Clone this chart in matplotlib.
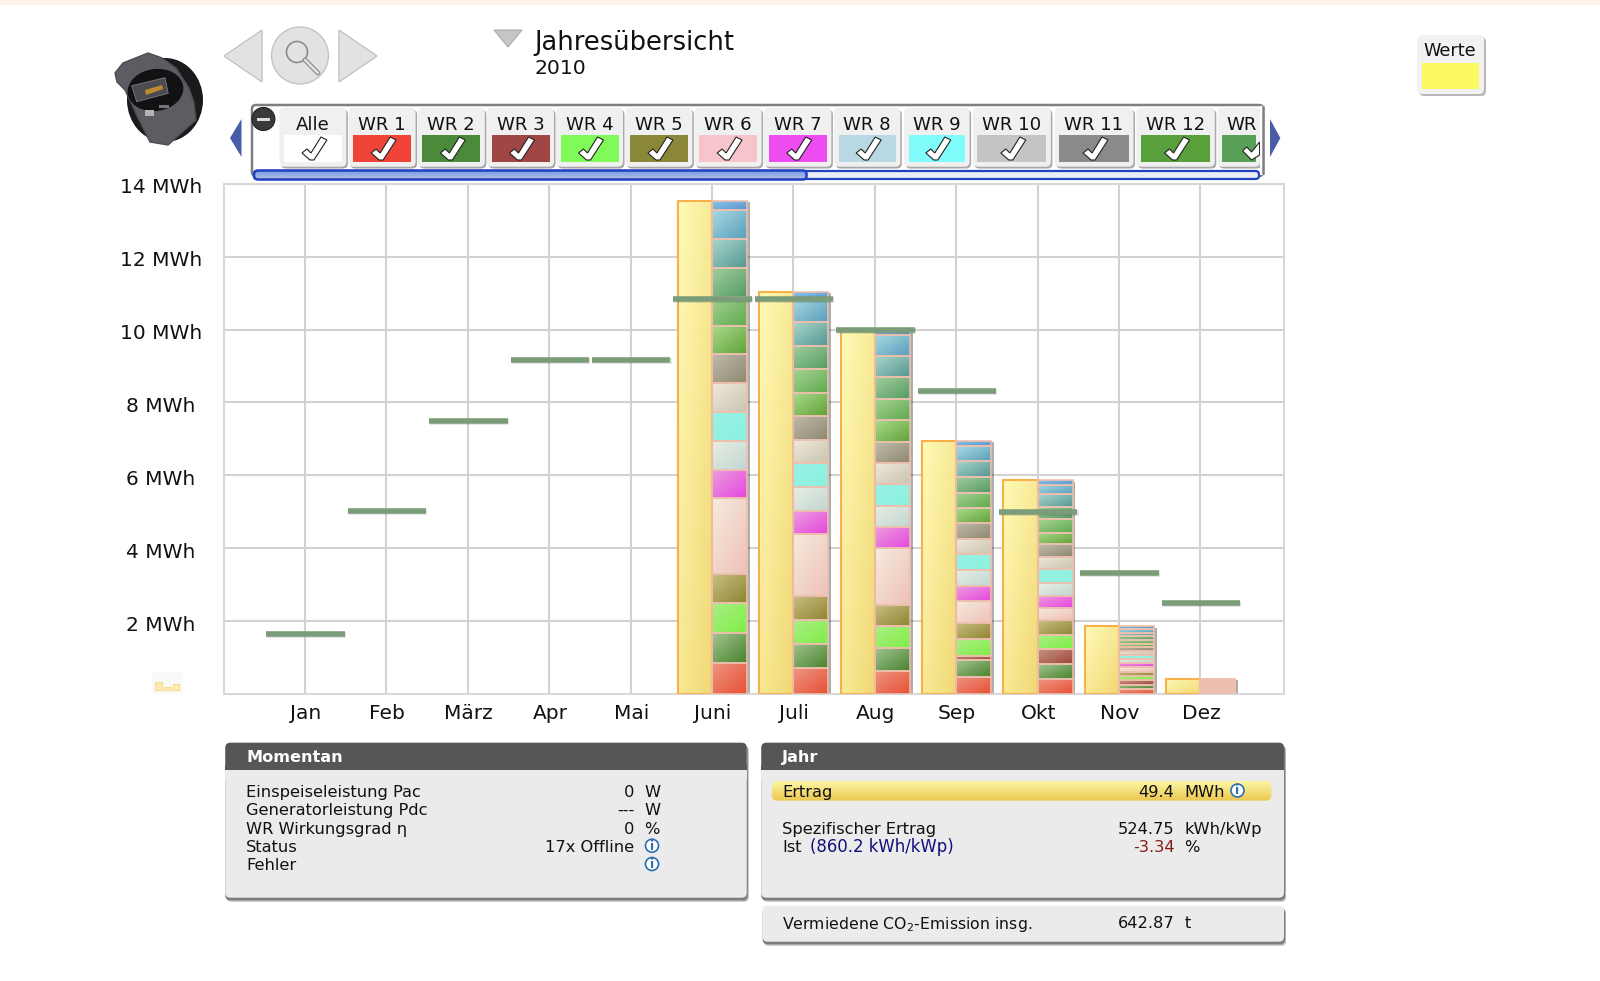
import numpy as np
import matplotlib
matplotlib.use("Agg")
import matplotlib.pyplot as plt
import matplotlib.patheffects as pe
from matplotlib.colors import to_rgb
from matplotlib.patches import Circle, Ellipse, FancyBboxPatch, Polygon, Rectangle
from matplotlib.transforms import ScaledTranslation

plt.rcParams['font.family'] = 'DejaVu Sans'
plt.rcParams['mathtext.default'] = 'regular'

months = ["Jan", "Feb", "März", "Apr", "Mai", "Juni", "Juli", "Aug", "Sep", "Okt", "Nov", "Dez"]
totals = [0, 0, 0, 0, 0, 13.53, 11.04, 9.95, 6.95, 5.87, 1.87, 0.42]
targets = [1.65, 5.01, 7.50, 9.16, 9.16, 10.85, 10.85, 10.00, 8.32, 4.99, 3.31, 2.49]

# per inverter values, WR 1 at the bottom
juni = [.86, .80, 0, .83, .80, 2.08, .78, .80, .78, .79, .81, .77, .80, .78, .79, .81, .25]
juli = [.70, .67, 0, .66, .66, 1.70, .63, .67, .64, .64, .66, .64, .65, .64, .65, .64, .19]
aug = [.64, .61, 0, .62, .58, 1.55, .57, .59, .59, .60, .57, .60, .57, .60, .58, .58, .10]
sep = [.47, .46, .12, .45, .44, .62, .41, .43, .43, .43, .44, .39, .43, .44, .44, .40, .15]
okt = [.41, .40, .42, .39, .40, .35, .33, .35, .37, .35, .35, .31, .36, .35, .34, .25, .14]
nov = [.13, .12, .13, .11, .11, .13, .11, .11, .11, .11, .11, .10, .10, .10, .10, .10, .09]
dez = [.025, .025, .025, .025, .025, .025, .025, .025, .025, .025, .025, .025, .025, .025, .025, .025, .02]
stack_months = [5, 6, 7, 8, 9, 10, 11]
stacks = [juni, juli, aug, sep, okt, nov, dez]

# light / dark end of each segment gradient
seg_colors = [
    ("#ee9482", "#e84a2c"), ("#a0c490", "#3f7f24"), ("#c89484", "#9a4030"), ("#aaf084", "#78f040"),
    ("#c8c084", "#8a8028"), ("#f6eee0", "#f0c0b8"), ("#ee9ce0", "#e440e0"), ("#ecf0e4", "#bcd8d4"),
    ("#94f4ea", "#88f4e0"), ("#f0ecdc", "#c8c4b0"), ("#c0bcac", "#88846c"), ("#a8dc8c", "#58a030"),
    ("#a4d494", "#58a848"), ("#a0d09c", "#4c9860"), ("#a8d8cc", "#4c9490"), ("#a8dce4", "#509cbc"),
    ("#88c8ec", "#5090d0"),
]

tab_labels = ["Alle", "WR 1", "WR 2", "WR 3", "WR 4", "WR 5", "WR 6", "WR 7", "WR 8", "WR 9", "WR 10", "WR 11", "WR 12", "WR"]
tab_left = [279.5, 348.7, 417.9, 487, 556, 625.5, 694.6, 764, 834, 904, 972.8, 1054.6, 1136.3, 1217.6]
tab_right = [346.4, 415.6, 484.8, 554, 623, 692.4, 761.6, 831.4, 900.3, 969.6, 1050.9, 1133.5, 1214.8, 1260]
tab_colors = ["#ffffff", "#f04438", "#4a8a38", "#a04644", "#80fa58", "#8a8838", "#f8c4cc", "#ec4cf0",
              "#b8d8e4", "#80fcfc", "#c4c4c4", "#8a8a8a", "#58a03c", "#58a058"]

now_rows = [("Einspeiseleistung Pac", "0", "W"), ("Generatorleistung Pdc", "---", "W"),
            ("WR Wirkungsgrad η", "0", "%"), ("Status", "17x Offline", ""), ("Fehler", "", "")]
now_y = [792.3, 810.6, 829.3, 847.3, 865.6]

W, H = 1600, 981


def gradient(c1, c2, n=64):
    # diagonal, light in the top left corner
    a, b = np.array(to_rgb(c1)), np.array(to_rgb(c2))
    u, v = np.meshgrid(np.linspace(0, 1, n), np.linspace(0, 1, n))
    t = ((u + v) / 2)[..., None]
    return a + (b - a) * t


def grad_bar(ax, x, bottom, height, width, c1, c2, edge, lw, zorder):
    face = ax.bar(x, height, width, bottom=bottom, align='edge', color='none', edgecolor='none', zorder=zorder)[0]
    im = ax.imshow(gradient(c1, c2), extent=(x, x + width, bottom, bottom + height), aspect='auto',
                   zorder=zorder, alpha=.96, interpolation='bilinear')
    im.set_clip_path(face)
    ax.bar(x, height, width, bottom=bottom, align='edge', color='none', edgecolor=edge, linewidth=lw, zorder=zorder + .1)


def box(ui, x0, y0, x1, y1, fc, ec='none', lw=0, r=4, z=2):
    p = FancyBboxPatch((x0 + r, y0 + r), x1 - x0 - 2 * r, y1 - y0 - 2 * r, boxstyle=f"round,pad={r},rounding_size={r}",
                       fc=fc, ec=ec, lw=lw, zorder=z)
    ui.add_patch(p)
    return p


def v_grad(ui, x0, y0, x1, y1, c1, c2, clip, z):
    a, b = np.array(to_rgb(c1)), np.array(to_rgb(c2))
    t = np.linspace(0, 1, 32)[:, None, None]
    im = ui.imshow(a + (b - a) * t, extent=(x0, x1, y1, y0), aspect='auto', zorder=z)
    im.set_clip_path(clip)


def check(ui, cx, cy):
    pts = np.array([[-12, 5], [-7, 1], [-3, 5], [7, -11], [13, -8], [0, 12], [-4, 12]])
    ui.add_patch(Polygon(pts + [cx, cy], closed=True, fc='white', ec='#222222', lw=.8, zorder=6))


def info(ui, cx, cy):
    ui.add_patch(Circle((cx, cy), 6.5, fc='white', ec='#2a6fb0', lw=1.2, zorder=5))
    ui.text(cx, cy + .3, "i", color='#2a6fb0', fontsize=9, fontweight='bold', ha='center', va='center', zorder=6)


fig = plt.figure(figsize=(W / 100, H / 100), dpi=100, facecolor='white')

# everything around the chart, in pixel coordinates
ui = fig.add_axes([0, 0, 1, 1], zorder=1)
ui.set_xlim(0, W)
ui.set_ylim(H, 0)
ui.axis('off')

ui.add_patch(Rectangle((0, 0), W, 5, fc='#fdf3ea', ec='none'))

# device picture
ui.add_patch(Ellipse((165, 100), 76, 84, fc='#1a1a1c', ec='none', zorder=2))
ui.add_patch(Polygon([[115, 73], [123, 63], [148, 53], [162, 58], [176, 68], [189, 88], [194, 103], [196, 120], [168, 145],
                      [150, 142], [138, 118], [125, 90], [117, 82]], closed=True, fc='#5c5d63', ec='#4c4d52', lw=1, zorder=3))
ui.add_patch(Ellipse((155.5, 90), 56, 42, angle=-8, fc='#121214', ec='none', zorder=4))
ui.add_patch(Polygon([[131.7, 85.7], [165, 77.7], [168.3, 93.3], [136.7, 101.7]], closed=True, fc='#4a4c52', ec='#8a8a8a', lw=.5, zorder=5))
ui.add_patch(Polygon([[145, 90], [162, 85], [163, 89], [146, 95]], closed=True, fc='#c08a30', ec='none', zorder=6))
ui.add_patch(Rectangle((145, 110), 8.5, 5.5, fc='#b4b4b4', ec='none', zorder=5))
ui.add_patch(Rectangle((159, 105), 10, 3, fc='#77777c', ec='none', zorder=5))

# navigation
nav = dict(fc='#e2e2e2', ec='#c4c4c4', lw=1, zorder=2)
ui.add_patch(Polygon([[224, 56], [262, 30], [262, 82]], closed=True, **nav))
ui.add_patch(Polygon([[377, 56], [339, 30], [339, 82]], closed=True, **nav))
ui.add_patch(Circle((300, 55.5), 28.5, **nav))
ui.add_patch(Circle((297, 52), 10.5, fc='none', ec='#8c8c8c', lw=1.2, zorder=3))
ui.plot([305, 318], [60, 73], color='#8c8c8c', lw=3.5, zorder=3, solid_capstyle='round')
ui.plot([305, 318], [60, 73], color='#e2e2e2', lw=1.8, zorder=3, solid_capstyle='round')
ui.add_patch(Polygon([[494, 30], [522, 30], [508, 47]], closed=True, fc='#c6c6c6', ec='#aaaaaa', lw=.8, zorder=2))

ui.text(534.5, 42.5, "Jahresübersicht", fontsize=18.5, ha='left', va='center', color='#111111')
ui.text(535, 69, "2010", fontsize=14.7, ha='left', va='center', color='#111111')

# werte box
box(ui, 1419, 37, 1486, 96, '#b8b8b8', r=5, z=2)
box(ui, 1417, 35, 1484, 94, '#f2f2f2', r=5, z=3)
ui.add_patch(Rectangle((1422, 63), 57, 26, fc='#fafa60', ec='none', zorder=4))
ui.text(1450, 51, "Werte", fontsize=12.7, ha='center', va='center', color='#111111', zorder=4)

# tab strip
box(ui, 252, 105, 1263, 176, 'white', ec='#808080', lw=1.8, r=4, z=1.5)
for label, x0, x1, color in zip(tab_labels, tab_left, tab_right, tab_colors):
    box(ui, x0 + 1.5, 109.5, x1 + 1.5, 168.5, '#a8a8a8', r=5, z=2)
    box(ui, x0, 107.7, x1, 166.7, '#f0f0f0', r=5, z=3)
    ui.add_patch(Rectangle((x0 + 4.5, 135), x1 - x0 - 9, 26.7, fc=color, ec='none', zorder=4))
    ui.text((x0 + x1) / 2 if label != "WR" else x0 + 24, 125, label, fontsize=13.1, ha='center', va='center', color='#111111', zorder=5)
    if label != "WR":
        check(ui, (x0 + x1) / 2 + 1, 148)
    else:
        ui.add_patch(Polygon([[x0 + 25, 151], [x0 + 29, 147], [x0 + 34, 152], [x0 + 42, 142], [x0 + 42, 155], [x0 + 34, 160]],
                             closed=True, fc='white', ec='#222222', lw=.8, zorder=6))
ui.add_patch(Rectangle((1260, 106), 3, 69, fc='white', ec='none', zorder=7))
ui.plot([1263, 1263], [107, 173], color='#808080', lw=1.8, zorder=8)

ui.add_patch(Circle((263.4, 119), 11.5, fc='#3a3a3a', ec='#222222', lw=.8, zorder=7))
ui.add_patch(Rectangle((257, 117.5), 13, 3, fc='#dddddd', ec='none', zorder=8))
ui.add_patch(Polygon([[241.5, 119], [241.5, 157], [230, 138]], closed=True, fc='#4a5ca8', ec='none', zorder=2))
ui.add_patch(Polygon([[1270, 119], [1270, 157], [1280.4, 138]], closed=True, fc='#4a5ca8', ec='none', zorder=2))

# scrollbar
box(ui, 254, 171, 1259, 179, '#e8eef8', ec='#2040c0', lw=1.6, r=3.5, z=5)
thumb = box(ui, 254, 170.5, 806.6, 179.5, 'none', ec='none', r=4, z=6)
v_grad(ui, 254, 170.5, 806.6, 179.5, '#6f9ae8', '#b4bce2', thumb, 6)
box(ui, 254, 170.5, 806.6, 179.5, 'none', ec='#2040c0', lw=1.8, r=4, z=7)

# small icon next to the axis
ui.add_patch(Rectangle((151.7, 672), 31.3, 22, fc='#f9f9f7', ec='none', zorder=2))
for x0, y0 in [(155, 681.7), (164, 687), (172.7, 683.7)]:
    ui.add_patch(Rectangle((x0, y0), 6.7, 690 - y0, fc='#fdeaae', ec='#f8da90', lw=.8, zorder=3))

# lower panels
for x0, y0, x1, y1 in [(225.3, 742.7, 746.7, 897.7), (761.3, 742.7, 1284, 897.7), (762.7, 905.7, 1284, 941.7)]:
    box(ui, x0 + 1, y0 + 3, x1 + 2, y1 + 4, '#b4b4b4', r=5, z=2)
    box(ui, x0, y0 + 2, x1 + 1, y1 + 2.5, '#7c7c7c', r=5, z=2.1)
    box(ui, x0, y0, x1, y1, '#ebebeb', r=5, z=3)
for x0, x1, title in [(225.3, 746.7, "Momentan"), (761.3, 1284, "Jahr")]:
    box(ui, x0, 742.7, x1, 775, '#565656', r=5, z=4)
    ui.add_patch(Rectangle((x0, 765), x1 - x0, 5.5, fc='#565656', ec='none', zorder=4))
    ui.add_patch(Rectangle((x0, 770), x1 - x0, 10, fc='#ebebeb', ec='none', zorder=4))
    ui.text(x0 + 20.7, 757.7, title, color='white', fontsize=11.6, fontweight='bold', ha='left', va='center', zorder=5)

txt = dict(fontsize=11.7, va='center', color='#111111', zorder=6)
for (label, value, unit), y in zip(now_rows, now_y):
    ui.text(246, y, label, ha='left', **txt)
    ui.text(634.5, y, value, ha='right', **txt)
    ui.text(644, y, unit, ha='left', **txt)
info(ui, 652, 845.7)
info(ui, 652, 864)

pill = box(ui, 771.7, 781, 1271.5, 800.7, 'none', r=6, z=5)
v_grad(ui, 771.7, 781, 1271.5, 800.7, '#fdf6a4', '#ecc850', pill, 5)
ui.text(782.5, 792.3, "Ertrag", ha='left', **txt)
ui.text(1174.5, 792.3, "49.4", ha='right', **txt)
ui.text(1184.6, 792.3, "MWh", ha='left', **txt)
info(ui, 1237.5, 790.5)
ui.text(782.5, 829.3, "Spezifischer Ertrag", ha='left', **txt)
ui.text(1174.5, 829.3, "524.75", ha='right', **txt)
ui.text(1184.6, 829.3, "kWh/kWp", ha='left', **txt)
ui.text(782.5, 847.3, "Ist", ha='left', **txt)
ui.text(810, 847.3, "(860.2 kWh/kWp)", ha='left', fontsize=11.9, va='center', color='#10107c', zorder=6)
ui.text(1174.5, 847.3, "-3.34", ha='right', fontsize=11.7, va='center', color='#8b1a1a', zorder=6)
ui.text(1184.6, 847.3, "%", ha='left', **txt)
ui.text(782.5, 924, "Vermiedene CO$_2$-Emission insg.", ha='left', fontsize=11.3, va='center', color='#111111', zorder=6)
ui.text(1174.5, 924, "642.87", ha='right', **txt)
ui.text(1184.6, 924, "t", ha='left', **txt)

# the chart itself
ax = fig.add_axes([223.6 / W, 1 - 694 / H, (1284.2 - 223.6) / W, (694 - 183.7) / H], zorder=2)
ax.patch.set_alpha(0)

x = np.arange(len(months))
ax.set_xticks(x)
ax.set_xticklabels(months, fontsize=14.5, color='#111111')
yticks = [2, 4, 6, 8, 10, 12, 14]
ax.set_yticks(yticks)
ax.set_yticklabels([f"{v} MWh" for v in yticks], fontsize=14.5, ha='center', color='#111111')
ax.tick_params(axis='both', length=0)
ax.tick_params(axis='y', pad=45)
ax.tick_params(axis='x', pad=7)
# labels sit a little off their gridline
down = ScaledTranslation(0, -2 / 100, fig.dpi_scale_trans)
right = ScaledTranslation(1 / 100, 0, fig.dpi_scale_trans)
for label in ax.get_yticklabels():
    label.set_transform(label.get_transform() + down)
for label in ax.get_xticklabels():
    label.set_transform(label.get_transform() + right)
ax.grid(True, color='#d2d2d2', linewidth=1.5, zorder=0)
ax.set_axisbelow(True)
for s in ax.spines.values():
    s.set_color('#d8d8d8')
    s.set_linewidth(1.5)

shadow = [pe.withSimplePatchShadow(offset=(2, -1.2), shadow_rgbFace='#000000', alpha=.32)]

for i, total in enumerate(totals):
    if total > 0:
        grad_bar(ax, i - .42, 0, total, .42, "#fffbb4", "#f1d66e", "#f8b04a", 1.5, 3)

for m, values in zip(stack_months, stacks):
    total = sum(values)
    outline = ax.bar(m, total, .43, align='edge', color='#e8c8b8', edgecolor='none', zorder=2.5)[0]
    outline.set_path_effects(shadow)
    bottom = 0
    for value, (c1, c2) in zip(values, seg_colors):
        if value > 0:
            grad_bar(ax, m, bottom, value, .43, c1, c2, "#edbfae", 1.2, 3)
        bottom += value

lines = ax.hlines(targets, x - .475, x + .49, colors='#7a9c78', linewidth=4, zorder=6)
lines.set_capstyle('butt')
lines.set_path_effects([pe.SimpleLineShadow(offset=(.8, -.8), shadow_color='#000000', alpha=.12), pe.Normal()])

ax.set_xlim(-1, 12.03)
ax.set_ylim(0, 14)

fig.savefig("out.png", dpi=100)
